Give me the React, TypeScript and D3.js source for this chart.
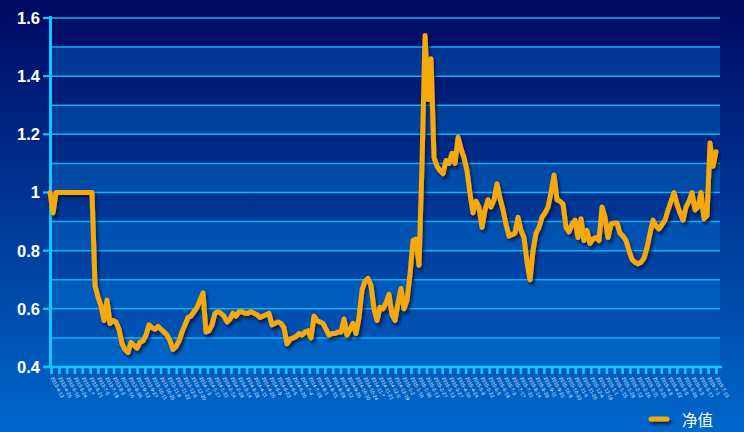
import React from "react";
import * as d3 from "d3";

const netValues: number[] = [
  1.0, 0.93, 1.0, 1.0, 1.0, 1.0, 1.0, 1.0, 1.0, 1.0, 1.0, 1.0, 1.0, 1.0, 1.0,
  0.68, 0.64, 0.61, 0.56, 0.63, 0.55, 0.56, 0.555, 0.53, 0.48,
  0.46, 0.45, 0.485, 0.475, 0.465, 0.485, 0.49, 0.51, 0.545, 0.535,
  0.53, 0.54, 0.53, 0.52, 0.51, 0.49, 0.46, 0.47, 0.49, 0.52,
  0.545, 0.57, 0.575, 0.59, 0.605, 0.63, 0.655, 0.52, 0.525, 0.545,
  0.585, 0.59, 0.585, 0.575, 0.555, 0.565, 0.585, 0.575, 0.59, 0.59,
  0.585, 0.585, 0.59, 0.585, 0.58, 0.57, 0.575, 0.58, 0.585, 0.545,
  0.55, 0.555, 0.55, 0.535, 0.48, 0.495, 0.5, 0.505, 0.515, 0.51,
  0.52, 0.525, 0.5, 0.575, 0.56, 0.555, 0.55, 0.53, 0.51, 0.515,
  0.515, 0.52, 0.52, 0.565, 0.51, 0.53, 0.55, 0.515, 0.57, 0.665,
  0.695, 0.705, 0.68, 0.6, 0.56, 0.605, 0.6, 0.62, 0.65, 0.58,
  0.56, 0.62, 0.67, 0.6, 0.63, 0.72, 0.835, 0.84, 0.75, 1.1,
  1.54, 1.32, 1.46, 1.12, 1.09, 1.075, 1.065, 1.11, 1.1, 1.135,
  1.1, 1.19, 1.15, 1.12, 1.075, 0.995, 0.93, 0.97, 0.95, 0.88,
  0.94, 0.975, 0.95, 0.975, 1.03, 0.98, 0.94, 0.89, 0.85, 0.855,
  0.86, 0.915, 0.87, 0.845, 0.76, 0.7, 0.8, 0.86, 0.88, 0.915,
  0.93, 0.95, 1.0, 1.06, 0.975, 0.97, 0.96, 0.88, 0.865, 0.89,
  0.905, 0.845, 0.91, 0.835, 0.87, 0.825, 0.84, 0.845, 0.835, 0.95,
  0.915, 0.845, 0.89, 0.895, 0.895, 0.86, 0.85, 0.835, 0.8, 0.77,
  0.76, 0.755, 0.76, 0.775, 0.81, 0.86, 0.905, 0.885, 0.875, 0.89,
  0.905, 0.94, 0.97, 1.0, 0.96, 0.93, 0.905, 0.95, 0.97, 1.0,
  0.94, 0.95, 1.0, 0.91, 0.92, 1.17, 1.09, 1.14,
];

const yTicks: number[] = [0.4, 0.6, 0.8, 1, 1.2, 1.4, 1.6];
const yGrid: number[] = [0.5, 0.6, 0.7, 0.8, 0.9, 1.0, 1.1, 1.2, 1.3, 1.4, 1.5, 1.6];
const bandStarts: number[] = [0.4, 0.6, 0.8, 1.0, 1.2, 1.4];

const fmt = d3.timeFormat("%Y-%-m-%-d");
const startDate = new Date(2013, 3, 12);
const xTickLabels: string[] = d3.range(86).map((i) => fmt(d3.timeDay.offset(startDate, i * 14)));

const legendLabel = "净值";

const W = 744;
const H = 432;
const left = 50;
const right = 720;
const top = 18;
const bottom = 367;

export default function App() {
  const y = d3.scaleLinear().domain([0.4, 1.6]).range([bottom, top]);
  const x = d3.scaleLinear().domain([0, netValues.length - 1]).range([50, 716]);
  const xt = d3.scalePoint<string>().domain(xTickLabels).range([51.5, 716.5]);
  const line = d3
    .line<number>()
    .x((_, i) => x(i))
    .y((d) => y(d))
    .curve(d3.curveLinear);

  return (
    <svg
      width={W}
      height={H}
      style={{ position: "fixed", left: 0, top: 0, display: "block" }}
      xmlns="http://www.w3.org/2000/svg"
    >
      <defs>
        <linearGradient id="bg" x1="0" y1="0" x2="0" y2="1">
          <stop offset="0" stopColor="#000862" />
          <stop offset="1" stopColor="#0068cc" />
        </linearGradient>
        <filter id="shadow" filterUnits="userSpaceOnUse" x={0} y={0} width={W} height={H}>
          <feDropShadow dx="2" dy="3" stdDeviation="1.6" floodColor="#000a3a" floodOpacity="0.75" />
        </filter>
      </defs>
      <rect x={0} y={0} width={W} height={H} fill="url(#bg)" />
      {/* alternating bands */}
      {bandStarts.map((b) => (
        <rect
          key={b}
          x={left}
          y={y(b + 0.1)}
          width={right - left}
          height={y(b) - y(b + 0.1)}
          fill="rgb(0,130,225)"
          fillOpacity={0.32}
        />
      ))}
      {/* grid lines */}
      {yGrid.map((g) => (
        <line key={g} x1={left} x2={right} y1={y(g)} y2={y(g)} stroke="#0ab4f2" strokeWidth={1.5} />
      ))}
      {/* x axis ticks */}
      {xTickLabels.map((l) => (
        <rect key={"t" + l} x={(xt(l) as number) - 1.3} y={367} width={2.6} height={7} fill="#10c8ff" />
      ))}
      {/* axes */}
      <line x1={43} x2={722} y1={367} y2={367} stroke="#10c8ff" strokeWidth={2.6} />
      <line x1={50.5} x2={50.5} y1={16} y2={368} stroke="#10c8ff" strokeWidth={3} />
      {yTicks.map((t) => (
        <line key={"yt" + t} x1={43} x2={50} y1={y(t)} y2={y(t)} stroke="#10c8ff" strokeWidth={2.2} />
      ))}
      {yTicks.map((t) => (
        <text
          key={"yl" + t}
          x={40}
          y={y(t)}
          dy="0.36em"
          textAnchor="end"
          fill="#ffffff"
          fontFamily="Liberation Sans, Arial, sans-serif"
          fontWeight="bold"
          fontSize={16.5}
        >
          {String(t)}
        </text>
      ))}
      {/* x labels */}
      {xTickLabels.map((l) => (
        <text
          key={"xl" + l}
          transform={`translate(${(xt(l) as number) - 1},${378}) rotate(62)`}
          fill="#dce8ff"
          fontFamily="Liberation Sans, Arial, sans-serif"
          fontSize={5}
        >
          {l}
        </text>
      ))}
      {/* series */}
      <path
        d={line(netValues) || ""}
        fill="none"
        stroke="#f5a90a"
        strokeWidth={5}
        strokeLinejoin="round"
        strokeLinecap="round"
        filter="url(#shadow)"
      />
      {/* legend */}
      <line
        x1={651}
        x2={667}
        y1={419}
        y2={419}
        stroke="#f5a90a"
        strokeWidth={5}
        strokeLinecap="round"
        filter="url(#shadow)"
      />
      <text
        x={682}
        y={420}
        dy="0.36em"
        fill="#ffffff"
        fontFamily="Noto Sans CJK SC, sans-serif"
        fontSize={15.5}
      >
        {legendLabel}
      </text>
    </svg>
  );
}
